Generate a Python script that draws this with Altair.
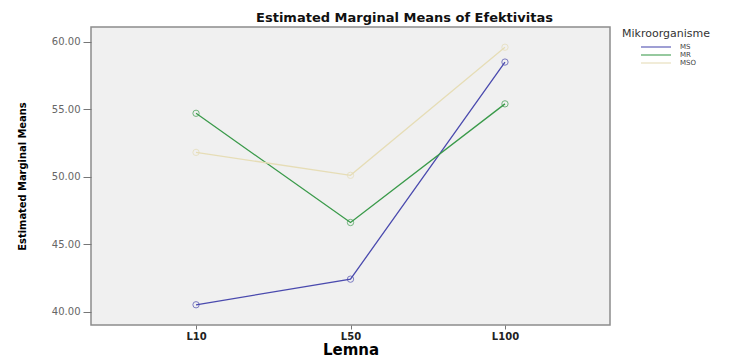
import altair as alt
import pandas as pd

lemna = ["L10", "L50", "L100"]
groups = ["MS", "MR", "MSO"]
ms_vals = [40.5, 42.4, 58.5]
mr_vals = [54.7, 46.6, 55.4]
mso_vals = [51.8, 50.1, 59.6]
y_ticks = [40, 45, 50, 55, 60]
colors = ["#4a4aae", "#3a9a4a", "#e6ddb6"]

rows = []
for g, vals in zip(groups, [ms_vals, mr_vals, mso_vals]):
    for l, v in zip(lemna, vals):
        rows.append({"Lemna": l, "Mikroorganisme": g, "Mean": v})
df = pd.DataFrame(rows)

font = "DejaVu Sans"
narrow = "DejaVu Sans Condensed, Liberation Sans Narrow, Liberation Sans"

x = alt.X("Lemna:N", sort=lemna,
          scale=alt.Scale(type="point", padding=0.68),
          axis=alt.Axis(title="Lemna", titleFontSize=15, titleFont=font, titleFontWeight="bold",
                        titleColor="#000", labelAngle=0, labelFontSize=10, labelFont=font,
                        labelColor="#222", labelFontWeight="bold", tickSize=4, tickColor="#777",
                        domain=False, titlePadding=1, labelPadding=2))
y = alt.Y("Mean:Q",
          scale=alt.Scale(domain=[39, 61.1], nice=False, zero=False),
          axis=alt.Axis(title="Estimated Marginal Means", values=y_ticks, format=".2f",
                        titleFont=narrow, titleFontSize=11, titleFontWeight="bold", titleColor="#000",
                        labelFontSize=10, labelFont=font, labelColor="#666", tickSize=8,
                        tickColor="#777", domain=False, grid=False, titlePadding=24, labelPadding=3))
color = alt.Color("Mikroorganisme:N", sort=groups,
                  scale=alt.Scale(domain=groups, range=colors),
                  legend=alt.Legend(orient="none", legendX=531, legendY=1, symbolType="stroke",
                                    symbolSize=900, symbolStrokeWidth=1.5, symbolOffset=18,
                                    clipHeight=8,
                                    titleFont=font, titleFontSize=11, titleFontWeight="normal",
                                    titleColor="#333", labelFont=font, labelFontSize=7,
                                    labelColor="#444", rowPadding=0, titlePadding=4,
                                    labelOffset=8))

base = alt.Chart(df).encode(x=x, y=y, color=color)
lines = base.mark_line(strokeWidth=1.3)
pts = base.mark_point(shape="circle", filled=False, size=40, strokeWidth=1)

chart = (lines + pts).properties(
    width=519, height=298,
    title=alt.TitleParams("Estimated Marginal Means of Efektivitas", anchor="middle", dx=54,
                          font=font, fontSize=13, fontWeight="bold", color="#111", offset=2),
    autosize=alt.AutoSizeParams(type="none"),
    padding={"left": 83, "top": 19, "right": 123, "bottom": 35},
).configure(background="white").configure_view(fill="#f0f0f0", stroke="#8c8c8c", strokeWidth=1.5)

chart.save("out.html", embed_options={"renderer": "svg", "actions": False})
